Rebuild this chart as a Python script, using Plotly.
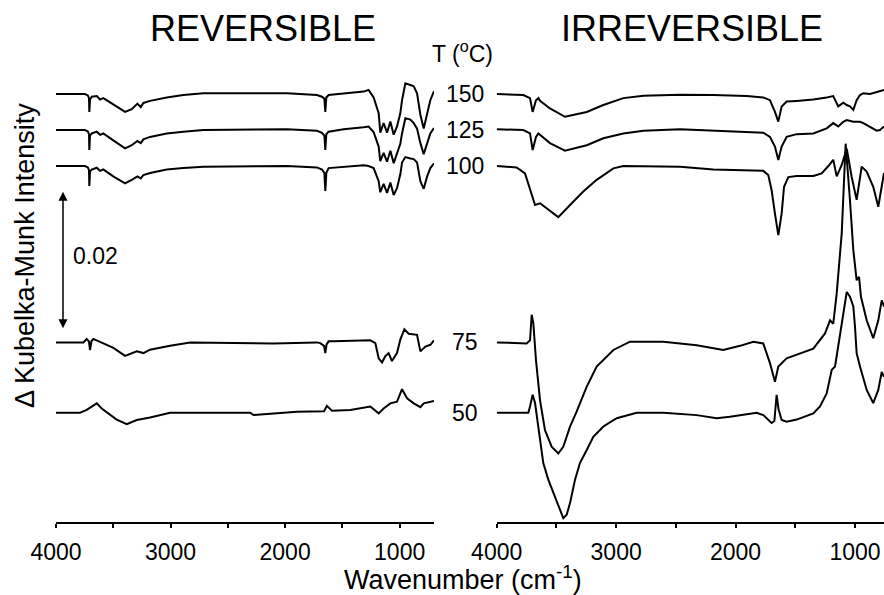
import plotly.graph_objects as go

# ---------------- data (Delta Kubelka-Munk values in units of 1e-3) ----------------
TEMPS = ["150", "125", "100", "75", "50"]
OFFSETS = [62.03, 56.81, 51.59, 26.03, 15.84]   # baseline of each temperature trace (1e-3 units)
SCALE_BAR = 0.02
TICK_VALS = [4000, 3500, 3000, 2500, 2000, 1500, 1000]
TICK_TEXT = ["4000", "", "3000", "", "2000", "", "1000"]

# Reversible panel
REV_WN_TOP = [4000, 3747, 3722, 3712, 3709, 3703, 3688, 3644, 3615, 3587,
              3500, 3397, 3339, 3289, 3260, 3237, 3179, 3033, 2888, 2713,
              1984, 1722, 1678, 1657, 1649, 1640, 1620, 1489, 1314, 1271,
              1227, 1183, 1169, 1140, 1110, 1081, 1052, 1023, 994, 979,
              950, 906, 877, 848, 819, 790, 760, 732, 700]
REV_150 = [0, 0, -0.2, -0.6, -2.6, -0.8, -0.4, -0.3, -0.8, -0.6,
           -1.5, -2.6, -2.2, -1.4, -1.9, -1.3, -1.0, -0.5, -0.15, 0.1,
           0.1, -0.15, -0.4, -0.7, -2.6, -0.5, -0.15, 0.1, 0.35, 0.6,
           -0.5, -2.8, -5.6, -4.2, -5.6, -4.0, -5.9, -4.7, -2.8, -0.9,
           1.55, 1.3, 1.1, 0.1, -3.0, -5.0, -2.8, -0.9, 0.4]
REV_125 = [0, 0, -0.2, -0.6, -2.9, -0.8, -0.5, -0.24, -0.7, -0.5,
           -1.5, -2.65, -2.2, -1.6, -1.9, -1.35, -1.0, -0.5, -0.24, 0,
           0.1, -0.1, -0.4, -0.8, -2.9, -0.6, -0.24, 0.1, 0.4, 0.5,
           -0.3, -2.4, -4.5, -3.3, -4.6, -3.0, -4.8, -3.5, -2.0, -0.5,
           1.7, 1.5, 1.0, 0.2, -1.9, -3.5, -1.8, -0.5, 0.3]
REV_100 = [0, 0, -0.2, -0.6, -2.9, -0.8, -0.5, -0.24, -0.7, -0.5,
           -1.5, -2.5, -2.0, -1.5, -1.8, -1.3, -1.0, -0.5, -0.3, -0.1,
           0, -0.2, -0.5, -1.0, -3.6, -1.0, -0.3, -0.1, 0.1, 0,
           -0.3, -2.2, -3.8, -2.6, -3.9, -2.4, -4.2, -3.2, -1.2, 0.5,
           1.3, 1.1, 1.0, 0.5, -2.2, -3.3, -1.5, -0.3, 0.4]
REV_WN_75 = [4000, 3761, 3732, 3712, 3703, 3690, 3674, 3587, 3499, 3397,
             3295, 3237, 3179, 3004, 2829, 2101, 1722, 1693, 1660, 1649,
             1638, 1620, 1577, 1256, 1212, 1183, 1154, 1125, 1096, 1067,
             1023, 994, 959, 921, 848, 819, 775, 732, 700]
REV_75 = [0, 0, 0.5, 0.1, -1.1, 0.2, 0.5, -0.1, -0.8, -1.95,
          -1.3, -1.55, -1.06, -0.5, 0, -0.15, 0, -0.1, -0.5, -1.55,
          -0.3, 0.15, 0.15, 0.3, -0.1, -2.3, -2.9, -2.0, -1.55, -2.7,
          -1.55, 0.4, 1.9, 1.25, 1.1, -1.3, -0.6, -0.35, 0.3]
REV_WN_50 = [4000, 3790, 3732, 3644, 3601, 3528, 3470, 3382, 3295, 3179,
             3004, 2305, 2276, 1897, 1722, 1660, 1635, 1591, 1431, 1256,
             1183, 1140, 1081, 1023, 979, 935, 877, 819, 790, 700]
REV_50 = [0, 0, 0.4, 1.35, 0.6, -0.34, -1.0, -1.65, -1.06, -0.7,
          0, 0, -0.34, 0.15, 0.15, 0.2, 1.0, 0.3, 0.4, 0.9,
          -0.1, 0.6, 1.35, 1.6, 3.4, 2.1, 1.35, 0.8, 1.35, 1.7]

# Irreversible panel
IRR_WN_150 = [4000, 3889, 3777, 3721, 3699, 3671, 3651, 3637, 3554, 3428,
              3359, 3246, 3107, 2940, 2772, 2465, 2186, 1907, 1768, 1712,
              1670, 1642, 1614, 1572, 1488, 1349, 1237, 1182, 1140, 1098,
              1069, 1042, 1014, 986, 958, 930, 874, 818, 757]
IRR_150 = [0, -0.1, -0.15, -0.6, -2.6, -0.9, -0.6, -1.0, -2.1, -3.3,
           -3.0, -2.6, -1.6, -0.6, -0.24, -0.1, -0.15, -0.3, -0.5, -0.9,
           -2.6, -4.0, -1.8, -1.1, -1.0, -0.8, -0.5, -0.3, -1.8, -1.25,
           -1.6, -1.8, -2.3, -0.9, -0.15, 0.1, 0, 0.34, 0.6]
IRR_WN_125 = [4000, 3777, 3721, 3699, 3671, 3651, 3554, 3428, 3246, 3107,
              2940, 2772, 2465, 2186, 1907, 1768, 1712, 1670, 1642, 1614,
              1572, 1488, 1349, 1237, 1182, 1140, 1098, 1069, 1014, 958,
              930, 874, 818, 791, 757]
IRR_125 = [0.1, 0, -0.5, -2.9, -1.0, -0.5, -1.9, -3.0, -2.2, -1.2,
           -0.5, -0.1, 0.1, -0.1, -0.24, -0.4, -1.0, -2.4, -4.35, -2.4,
           -1.0, -0.6, -0.5, 0.24, 1.0, 0.5, 1.2, 1.45, 1.2, 1.2,
           1.0, 0.5, -0.1, 0, 0.5]
IRR_WN_100 = [4000, 3833, 3763, 3721, 3679, 3637, 3581, 3484, 3386, 3275,
              3163, 3023, 2940, 2744, 2465, 2186, 1907, 1768, 1726, 1698,
              1670, 1642, 1614, 1594, 1558, 1488, 1349, 1279, 1223, 1182,
              1153, 1111, 1069, 1028, 986, 944, 902, 847, 805, 768, 757]
IRR_100 = [0, -0.2, -1.06, -3.5, -5.65, -5.4, -6.1, -7.4, -5.65, -3.7,
           -2.0, -0.34, 0, 0, -0.1, -0.5, -0.7, -0.7, -1.3, -3.5,
           -6.9, -10.0, -6.9, -3.0, -1.6, -1.45, -1.45, -1.06, 0, 0.9,
           -1.5, 0.15, 2.5, -1.55, -4.9, -0.1, -0.8, -3.0, -5.9, -1.55, -1.0]
IRR_WN_75 = [4000, 3749, 3721, 3707, 3693, 3671, 3637, 3596, 3540, 3484,
             3442, 3386, 3330, 3246, 3163, 3023, 2884, 2605, 2325, 2103,
             1963, 1851, 1768, 1712, 1670, 1642, 1572, 1349, 1251, 1209,
             1182, 1153, 1111, 1078, 1042, 1014, 986, 966, 950, 902,
             847, 805, 776, 757]
IRR_75 = [0, -0.15, 0.3, 4.0, 2.75, -2.6, -8.4, -12.7, -15.1, -16.1,
          -15.1, -12.2, -10.0, -6.4, -3.5, -1.1, 0.1, 0.1, -0.4, -1.1,
          -0.5, 0.1, -0.15, -3.0, -5.7, -3.5, -2.3, -0.9, 1.3, 3.2,
          2.7, 7.1, 15.8, 28.8, 20.6, 13.4, 9.0, 9.5, 6.6, 3.2,
          0.6, 3.2, 6.1, 5.2]
IRR_WN_50 = [4000, 3735, 3721, 3699, 3679, 3651, 3610, 3568, 3526, 3484,
             3442, 3414, 3386, 3344, 3303, 3246, 3191, 3107, 2995, 2828,
             2605, 2325, 2158, 2047, 1907, 1823, 1768, 1698, 1675, 1656,
             1640, 1614, 1572, 1488, 1349, 1293, 1237, 1195, 1167, 1140,
             1098, 1069, 1042, 1014, 1000, 986, 958, 902, 847, 805,
             776, 757]
IRR_50 = [0, 0, 0.9, 2.6, 1.4, -2.0, -7.3, -9.7, -11.6, -13.5,
          -15.3, -14.8, -13.1, -9.7, -7.3, -5.4, -3.5, -2.0, -0.8, 0,
          0, -0.35, -0.8, -0.6, -0.2, 0, -0.35, -1.5, -1.2, 2.6,
          0.5, -1.06, -1.3, -1.0, -0.1, 0.9, 2.8, 6.2, 6.7, 9.6,
          14.4, 17.5, 16.8, 15.4, 12.5, 8.6, 6.7, 3.3, 1.4, 3.3,
          5.9, 5.2]

# ---------------- figure ----------------
W, H = 884, 595
FONT = "Liberation Sans, Arial, sans-serif"
UNIT = 1e-3

rev = [(REV_WN_TOP, REV_150), (REV_WN_TOP, REV_125), (REV_WN_TOP, REV_100),
       (REV_WN_75, REV_75), (REV_WN_50, REV_50)]
irr = [(IRR_WN_150, IRR_150), (IRR_WN_125, IRR_125), (IRR_WN_100, IRR_100),
       (IRR_WN_75, IRR_75), (IRR_WN_50, IRR_50)]

fig = go.Figure()
for (wn, val), off in zip(rev, OFFSETS):
    fig.add_trace(go.Scatter(x=wn, y=[(off + v) * UNIT for v in val], mode="lines",
                             line=dict(color="black", width=2), xaxis="x", yaxis="y",
                             showlegend=False, hoverinfo="skip"))
for (wn, val), off in zip(irr, OFFSETS):
    fig.add_trace(go.Scatter(x=wn, y=[(off + v) * UNIT for v in val], mode="lines",
                             line=dict(color="black", width=2), xaxis="x2", yaxis="y2",
                             showlegend=False, hoverinfo="skip"))

def px_x(p):
    return p / W

def px_y(p):
    return (H - p) / H

y_top_units = (522 - 75) / 6.9 * UNIT

xcommon = dict(showline=True, linecolor="black", linewidth=2, ticks="outside",
               ticklen=4, tickwidth=1.5, tickcolor="black", tickvals=TICK_VALS,
               ticktext=TICK_TEXT, tickfont=dict(family=FONT, size=23, color="black"),
               showgrid=False, zeroline=False, ticklabelstandoff=4, automargin=False)

fig.update_layout(
    template="none",
    width=W, height=H, margin=dict(l=0, r=0, t=0, b=0, pad=0, autoexpand=False),
    paper_bgcolor="white", plot_bgcolor="white",
    xaxis=dict(domain=[px_x(56), px_x(434)], range=[4000, 700], anchor="y", **xcommon),
    xaxis2=dict(domain=[px_x(496.7), 1.0], range=[4000, 757], anchor="y2", **xcommon),
    yaxis=dict(domain=[px_y(522), px_y(75)], range=[0, y_top_units], visible=False,
               showgrid=False, zeroline=False, automargin=False),
    yaxis2=dict(domain=[px_y(522), px_y(75)], range=[0, y_top_units], visible=False,
                showgrid=False, zeroline=False, anchor="x2", matches="y", automargin=False),
)

ann = []
ann.append(dict(text="REVERSIBLE", x=px_x(263), y=px_y(28), xref="paper", yref="paper",
                showarrow=False, font=dict(family=FONT, size=36, color="black"),
                xanchor="center", yanchor="middle"))
ann.append(dict(text="IRREVERSIBLE", x=px_x(692), y=px_y(28), xref="paper", yref="paper",
                showarrow=False, font=dict(family=FONT, size=36, color="black"),
                xanchor="center", yanchor="middle"))
ann.append(dict(text="T (<sup>o</sup>C)", x=px_x(462), y=px_y(52), xref="paper", yref="paper",
                showarrow=False, font=dict(family=FONT, size=23, color="black"),
                xanchor="center", yanchor="middle"))
for t, off in zip(TEMPS, OFFSETS):
    ann.append(dict(text=t, x=px_x(465), y=off * UNIT, xref="paper", yref="y",
                    showarrow=False, font=dict(family=FONT, size=23, color="black"),
                    xanchor="center", yanchor="middle"))
# scale bar
bar_low = 28.07 * UNIT
ann.append(dict(text="", x=3939, y=bar_low, xref="x", yref="y",
                ax=3939, ay=bar_low + SCALE_BAR, axref="x", ayref="y",
                showarrow=True, arrowhead=2, arrowside="end+start", arrowsize=1.2,
                arrowwidth=1.5, arrowcolor="black", standoff=0, startstandoff=0))
ann.append(dict(text=f"{SCALE_BAR:.2f}", x=px_x(95), y=bar_low + SCALE_BAR / 2 + 0.0005,
                xref="paper", yref="y", showarrow=False,
                font=dict(family=FONT, size=23, color="black"),
                xanchor="center", yanchor="middle"))
ann.append(dict(text="Wavenumber (cm<sup>-1</sup>)", x=px_x(463), y=px_y(578),
                xref="paper", yref="paper", showarrow=False,
                font=dict(family=FONT, size=27, color="black"),
                xanchor="center", yanchor="middle"))
ann.append(dict(text="\u0394 Kubelka-Munk Intensity", x=px_x(25), y=px_y(256),
                xref="paper", yref="paper", showarrow=False, textangle=-90,
                font=dict(family=FONT, size=27, color="black"),
                xanchor="center", yanchor="middle"))
fig.update_layout(annotations=ann)

fig.write_html("out.html")
